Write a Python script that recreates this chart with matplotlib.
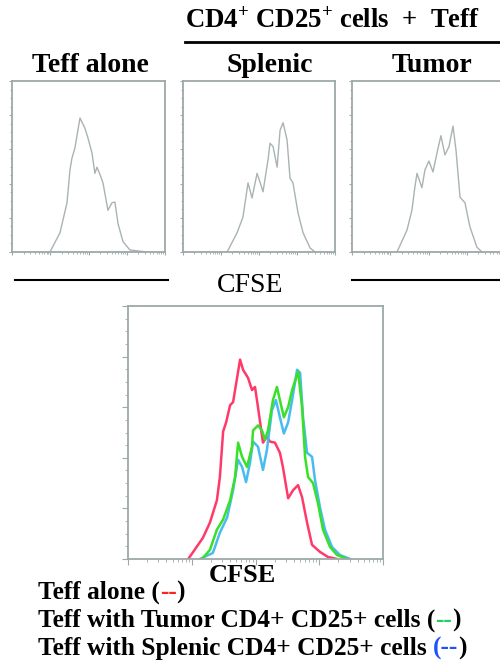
import numpy as np
import matplotlib
matplotlib.use("Agg")
import matplotlib.pyplot as plt

plt.rcParams["font.family"] = ["Liberation Serif", "DejaVu Serif"]
plt.rcParams["mathtext.fontset"] = "custom"
plt.rcParams["mathtext.rm"] = "Liberation Serif:bold"
plt.rcParams["mathtext.bf"] = "Liberation Serif:bold"

# CFSE channel (0-1024, 4 log decades) and cell counts
alone_x = [254, 321, 368, 388, 401, 421, 455, 488, 508, 535, 555, 569, 589, 609,
           642, 669, 689, 709, 743, 789, 903]
alone_y = [0, 28, 72, 120, 137, 152, 196, 181, 167, 145, 115, 124, 113, 101,
           61, 72, 73, 42, 15, 3, 0]

splenic_x = [297, 364, 404, 438, 465, 499, 519, 539, 573, 586, 607, 634, 654,
             674, 701, 721, 741, 775, 809, 856, 890]
splenic_y = [0, 28, 51, 101, 79, 115, 102, 88, 135, 159, 154, 124, 178, 189,
             164, 108, 101, 57, 28, 6, 0]

tumor_x = [301, 368, 401, 421, 435, 468, 488, 515, 542, 569, 595, 622, 649,
           676, 696, 723, 756, 789, 836, 870]
tumor_y = [0, 32, 61, 95, 115, 94, 120, 133, 117, 145, 170, 142, 154, 184,
           149, 80, 72, 37, 7, 0]

# overlay panel
red_x = [242, 301, 329, 357, 369, 382, 394, 410, 422, 450, 462, 482, 498, 510,
         522, 542, 558, 570, 590, 610, 622, 643, 663, 683, 699, 719, 739, 771,
         803, 839]
red_y = [0, 21, 36, 58, 81, 126, 135, 152, 155, 197, 187, 179, 167, 170, 150,
         115, 121, 116, 115, 105, 91, 60, 68, 73, 61, 36, 14, 7, 2, 0]

green_x = [297, 329, 357, 382, 410, 430, 442, 458, 478, 498, 502, 522, 538,
           550, 562, 582, 598, 610, 626, 643, 659, 683, 699, 711, 723, 743,
           763, 783, 811, 839, 879]
green_y = [0, 9, 29, 39, 58, 81, 115, 101, 91, 111, 127, 132, 127, 118, 127,
           157, 170, 157, 140, 150, 167, 185, 150, 101, 81, 75, 55, 29, 12, 4, 0]

blue_x = [289, 341, 369, 398, 422, 442, 458, 474, 490, 502, 522, 542, 558, 578,
          594, 610, 626, 643, 659, 679, 691, 703, 719, 739, 751, 771, 791, 819,
          851, 892]
blue_y = [0, 6, 26, 41, 68, 98, 91, 76, 95, 116, 111, 88, 108, 147, 157, 140,
          124, 135, 157, 187, 184, 140, 105, 101, 78, 51, 29, 12, 4, 0]

panel_titles = ["Teff alone", "Splenic", "Tumor"]
legend_lines = [
    ("Teff alone (", "--", ")", "#ff2020"),
    ("Teff with Tumor CD4+ CD25+ cells (", "--", ")", "#20d060"),
    ("Teff with Splenic CD4+ CD25+ cells ", "(--", ")", "#2050ff"),
]

W, H = 500, 666
fig = plt.figure(figsize=(W / 100, H / 100), dpi=100)


def px(x, y):
    return x / W, 1 - y / H


frame_col = "#9ea8a8"
major = np.arange(0, 1025, 256)
minor = np.array([256 * d + 256 * np.log10(k) for d in range(4) for k in range(2, 10)])


def style_axes(ax, tick_len):
    ax.set_xlim(0, 1024)
    ax.set_ylim(0, 250)
    for s in ax.spines.values():
        s.set_color(frame_col)
        s.set_linewidth(1.3)
    ax.set_xticks(major)
    ax.set_xticks(minor, minor=True)
    ax.set_yticks(np.arange(0, 251, 50))
    ax.set_yticks(np.arange(0, 251, 12.5), minor=True)
    ax.tick_params(which="major", length=tick_len, width=0.8, color=frame_col,
                   labelbottom=False, labelleft=False)
    ax.tick_params(which="minor", length=tick_len * 0.5, width=0.6, color=frame_col)


# top three histograms
panels = [(12, 153, alone_x, alone_y), (183, 152, splenic_x, splenic_y),
          (352, 153, tumor_x, tumor_y)]
title_x = [90, 270, 432]
for (left, width, xs, ys), title, tx in zip(panels, panel_titles, title_x):
    ax = fig.add_axes([left / W, 1 - 252 / H, width / W, 171 / H])
    ax.plot(xs, ys, color="#a9b3b3", lw=1.0)
    style_axes(ax, 2.5)
    fig.text(*px(tx, 65), title, ha="center", va="center",
             fontsize=20, fontweight="bold")

fig.text(*px(185, 21), r"CD4$^{\mathbf{+}}$ CD25$^{\mathbf{+}}$ cells  +  Teff",
         ha="left", va="center", fontsize=19.3, fontweight="bold")
fig.add_artist(plt.Line2D([185 / W, 1.0], [1 - 42 / H] * 2, color="black", lw=2))
fig.add_artist(plt.Line2D([15 / W, 168 / W], [1 - 280 / H] * 2, color="black", lw=1.5))
fig.add_artist(plt.Line2D([352 / W, 1.0], [1 - 280 / H] * 2, color="black", lw=1.5))
fig.text(*px(250, 285), "CFSE", ha="center", va="center", fontsize=20)

# overlay histogram
ax = fig.add_axes([128 / W, 1 - 559 / H, 255 / W, 253 / H])
ax.plot(red_x, red_y, color="#ff3a6a", lw=1.8)
ax.plot(blue_x, blue_y, color="#48bcf0", lw=1.8)
ax.plot(green_x, green_y, color="#38e028", lw=1.8)
style_axes(ax, 4)
ax.tick_params(which="both", direction="out")
fig.text(*px(242, 576), "CFSE", ha="center", va="center", fontsize=19, fontweight="bold")

# legend lines with coloured dashes
renderer = fig.canvas.get_renderer()
for i, (pre, dash, post, col) in enumerate(legend_lines):
    x, y = px(38, 592 + i * 28)
    for s, c in ((pre, "black"), (dash, col), (post, "black")):
        t = fig.text(x, y, s, color=c, ha="left", va="center", fontsize=18.3,
                     fontweight="bold")
        x += t.get_window_extent(renderer).width / fig.bbox.width

fig.savefig("out.png", dpi=100)
